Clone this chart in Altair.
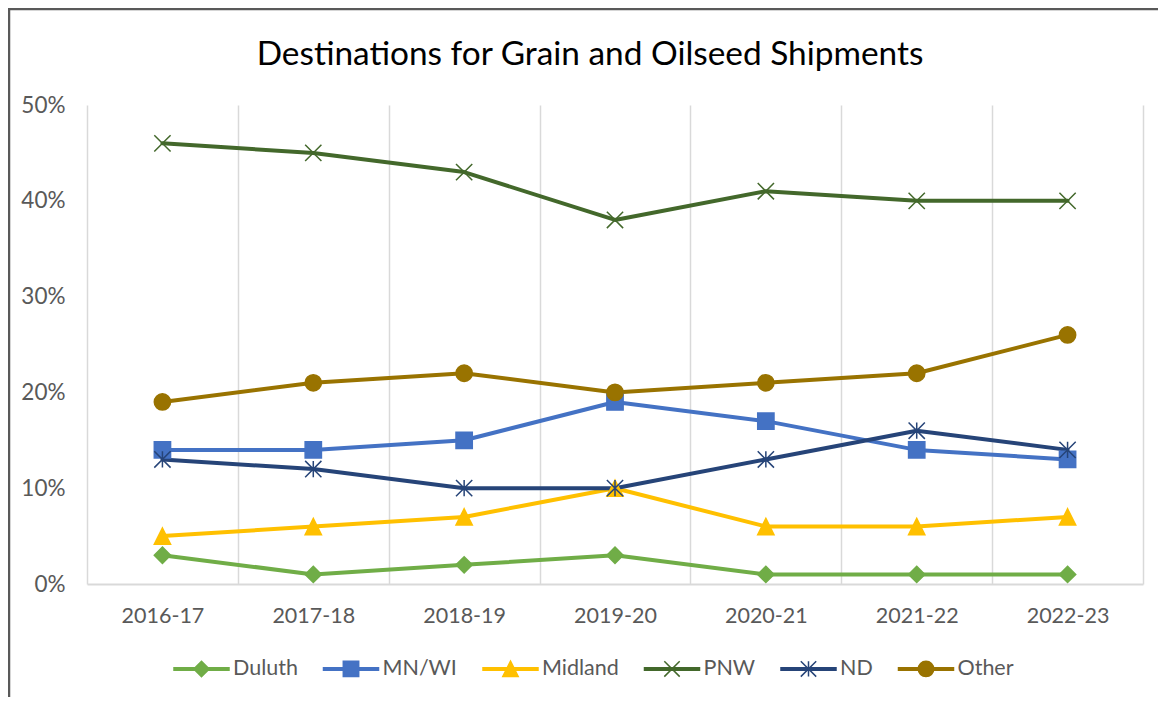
import altair as alt
import pandas as pd

years = ["2016-17", "2017-18", "2018-19", "2019-20", "2020-21", "2021-22", "2022-23"]
series = ["Duluth", "MN/WI", "Midland", "PNW", "ND", "Other"]
duluth = [3, 1, 2, 3, 1, 1, 1]
mn_wi = [14, 14, 15, 19, 17, 14, 13]
midland = [5, 6, 7, 10, 6, 6, 7]
pnw = [46, 45, 43, 38, 41, 40, 40]
nd = [13, 12, 10, 10, 13, 16, 14]
other = [19, 21, 22, 20, 21, 22, 26]
y_ticks = [0, 0.1, 0.2, 0.3, 0.4, 0.5]

colors = ["#70AD47", "#4472C4", "#FFC000", "#43682B", "#264478", "#997300"]
FONT = "Lato"
GREY = "#595959"

rows = []
for i, (s, vals) in enumerate(zip(series, [duluth, mn_wi, midland, pnw, nd, other])):
    for yr, v in zip(years, vals):
        rows.append({"year": yr, "series": s, "share": v / 100, "order": i})
df = pd.DataFrame(rows)


def marker(kind, r):
    if kind == "diamond":
        return f"M0,{-r}L{r},0L0,{r}L{-r},0Z"
    if kind == "square":
        return f"M{-r},{-r}H{r}V{r}H{-r}Z"
    if kind == "triangle":
        return f"M0,{-r}L{r},{r}L{-r},{r}Z"
    if kind == "x":
        return f"M{-r},{-r}L{r},{r}M{-r},{r}L{r},{-r}"
    if kind == "star":
        return f"M{-r},{-r}L{r},{r}M{-r},{r}L{r},{-r}M0,{-r}V{r}"
    if kind == "circle":
        return f"M{-r},0A{r},{r} 0 1,1 {r},0A{r},{r} 0 1,1 {-r},0Z"


kinds = ["diamond", "square", "triangle", "x", "star", "circle"]
plot_shapes = [marker(k, 1) for k in kinds]
legend_line = "M-1,-0.045H1V0.045H-1Z"
legend_shapes = [legend_line + marker(k, 0.28) for k in kinds]

x_enc = alt.X(
    "year:N",
    sort=years,
    scale=alt.Scale(type="band", paddingInner=0, paddingOuter=0),
    axis=alt.Axis(
        title=None, labelAngle=0, tickBand="extent", grid=True,
        gridColor="#D9D9D9", gridWidth=1.5, ticks=False,
        domainColor="#D9D9D9", domainWidth=2,
        labelFont=FONT, labelFontSize=21.5, labelColor=GREY, labelPadding=21,
    ),
)
y_enc = alt.Y(
    "share:Q",
    scale=alt.Scale(domain=[0, 0.5], nice=False),
    axis=alt.Axis(
        title=None, format=".0%", values=y_ticks, grid=False, domain=False,
        ticks=False, labelFont=FONT, labelFontSize=22.5, labelColor=GREY,
        labelPadding=22,
    ),
)

color_scale = alt.Scale(domain=series, range=colors)

lines = alt.Chart(df).mark_line(strokeWidth=4, strokeJoin="round", strokeCap="round").encode(
    x=x_enc, y=y_enc,
    color=alt.Color("series:N", scale=color_scale, legend=None),
    detail="series:N",
)

points = alt.Chart(df).mark_point(filled=True, opacity=1, strokeWidth=1.5, size=265).encode(
    x=x_enc, y=y_enc,
    fill=alt.Fill("series:N", scale=color_scale, legend=None),
    stroke=alt.Stroke("series:N", scale=color_scale, legend=None),
    shape=alt.Shape("series:N", scale=alt.Scale(domain=series, range=plot_shapes), legend=None),
)

leg = alt.Legend(
    title=None, orient="none", legendX=86, legendY=535, direction="horizontal",
    labelFont=FONT, labelFontSize=21.5, labelColor=GREY, labelOffset=3,
    columnPadding=22.5, symbolSize=3025, symbolStrokeWidth=1.5, padding=0,
)

legend_layer = alt.Chart(df).transform_filter("false").mark_point(
    filled=True, opacity=1, strokeWidth=1.5, size=3025
).encode(
    fill=alt.Fill("series:N", scale=alt.Scale(domain=series, range=colors), legend=leg),
    stroke=alt.Stroke("series:N", scale=alt.Scale(domain=series, range=colors), legend=leg),
    shape=alt.Shape("series:N", scale=alt.Scale(domain=series, range=legend_shapes), legend=leg),
)

frame_df = pd.DataFrame({"k": [0]})
frame_left = alt.Chart(frame_df).mark_rule(color="#595959", strokeWidth=2.5).encode(
    x=alt.value(-78), y=alt.value(-97), y2=alt.value(600)
)
frame_top = alt.Chart(frame_df).mark_rule(color="#595959", strokeWidth=2.5).encode(
    x=alt.value(-79), x2=alt.value(1080), y=alt.value(-96)
)

chart = alt.layer(lines, points, legend_layer, frame_left, frame_top).resolve_scale(
    fill="independent", stroke="independent", shape="independent"
).properties(
    width=1056, height=479,
    title=alt.TitleParams(
        "Destinations for Grain and Oilseed Shipments", font=FONT, fontSize=33.4,
        fontWeight="normal", color="black", anchor="middle", dx=-25, dy=92,
        offset=0, baseline="alphabetic",
    ),
    padding={"left": 79, "top": 97, "right": 15, "bottom": 113},
    autosize="none",
).configure_view(stroke=None)

chart.save("out.html", embed_options={"renderer": "svg", "actions": False})
